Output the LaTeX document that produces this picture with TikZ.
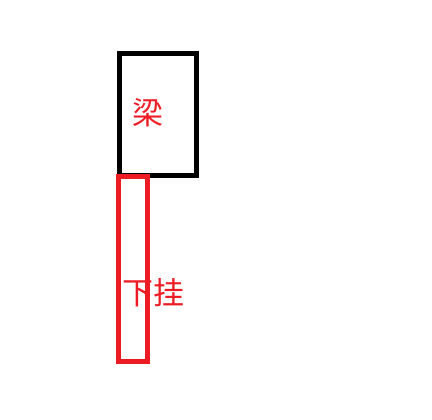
\documentclass[tikz,border=0pt]{standalone}
\usepackage{xcolor}
\usepackage{fontspec}
\newfontfamily\cjk{Noto Sans CJK SC}
\definecolor{paintred}{HTML}{ED1C24}

\begin{document}
\begin{tikzpicture}[x=1pt,y=-1pt,line width=5pt,
		lbl/.style={text=paintred,font=\cjk\fontsize{31}{31}\selectfont,inner sep=0pt}]
	\useasboundingbox (0,0) rectangle (432,420);
	%\tikzstyle{every node}=[draw=none]
	\draw[black] (119.5,53.5) rectangle (196.5,175.5);
	\node[lbl] (liang) at (147.5,113) {梁};
	\draw[paintred] (118.5,176.5) rectangle (147.5,361.5);
	\node[lbl] (xiagua) at (153,293) {下挂};
\end{tikzpicture}
\end{document}
